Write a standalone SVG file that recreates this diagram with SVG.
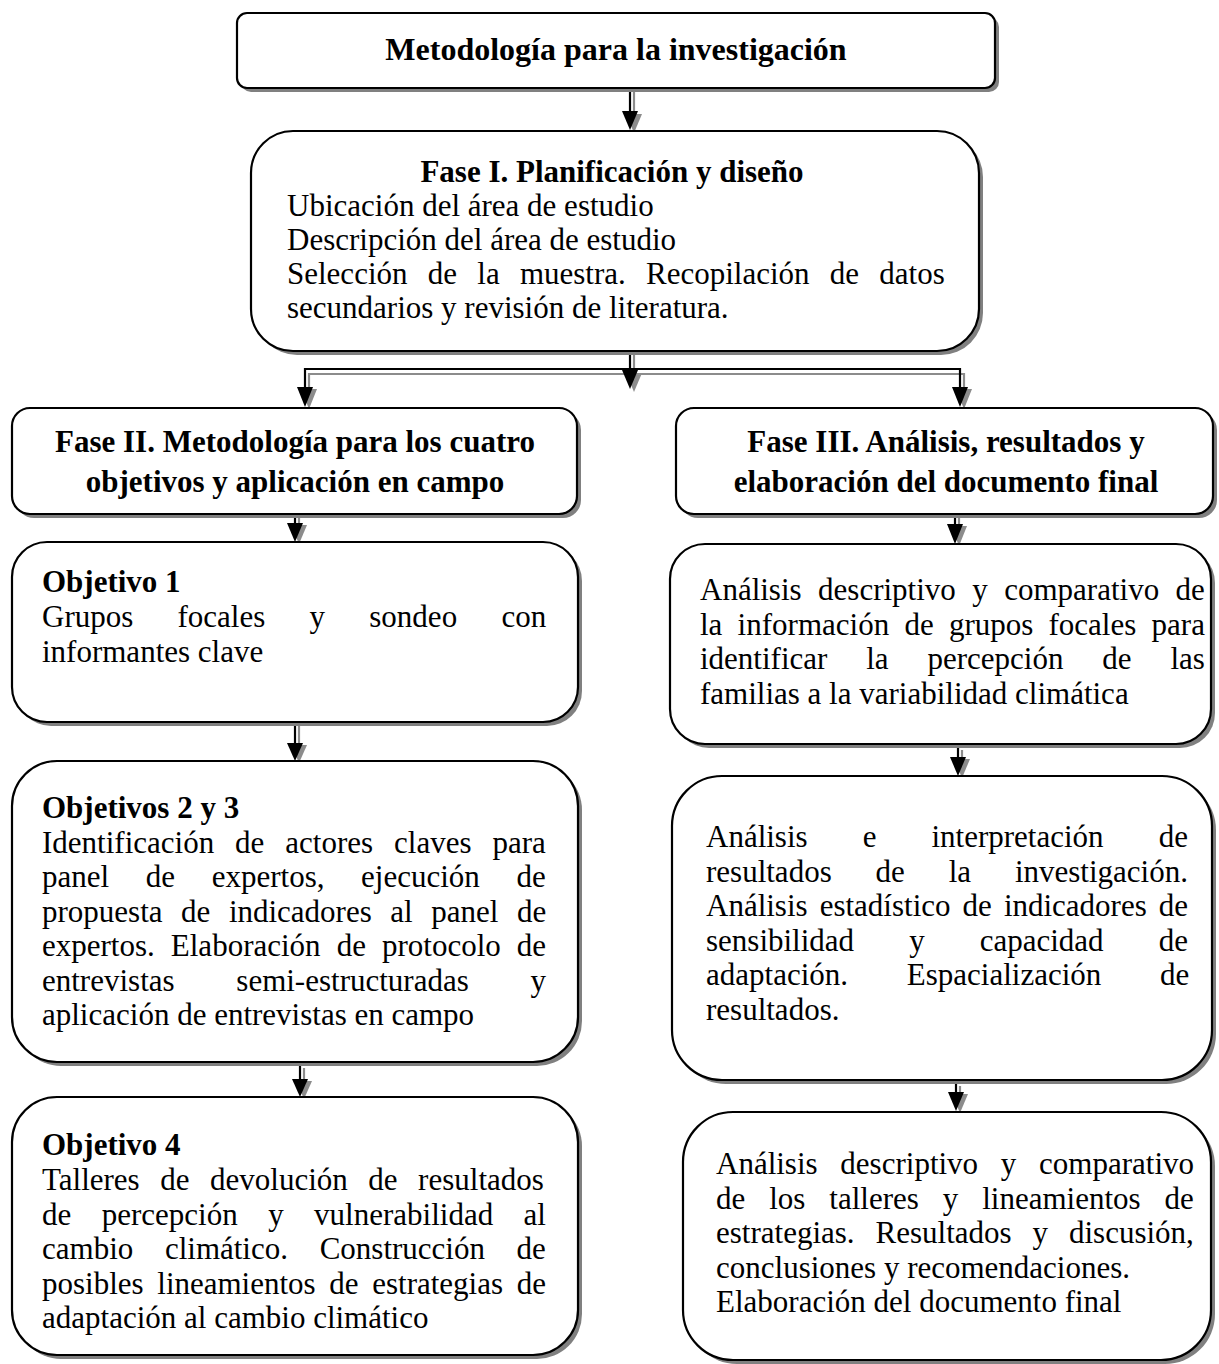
<svg xmlns="http://www.w3.org/2000/svg" width="1219" height="1364" viewBox="0 0 1219 1364">
<defs>
<style>
.box{fill:#fff;stroke:#000;stroke-width:2.2}
.sh{fill:#808080;stroke:none}
.t{font-family:"Liberation Serif","Times New Roman",serif;font-size:31px;fill:#000}
.b{font-weight:bold}
.c{text-anchor:middle}
.ln{stroke:#000;stroke-width:2.2;fill:none}
.lg{stroke:#8c8c8c;stroke-width:2.2;fill:none}
.hd{fill:#000}
.hg{fill:#8c8c8c}
</style>
</defs>
<rect width="1219" height="1364" fill="#fff"/>

<g id="connectors">
  <!-- title -> fase I -->
  <path class="lg" d="M634 91 V116"/><polygon class="hg" points="626,114 642,114 634,133"/>
  <path class="ln" d="M630 89 V113"/><polygon class="hd" points="622,111 638,111 630,130"/>
  <!-- branch from fase I -->
  <path class="lg" d="M634 354 V374"/><polygon class="hg" points="626,373 642,373 634,392"/>
  <path class="lg" d="M309 391 V374 H964 V391"/>
  <polygon class="hg" points="301,389 317,389 309,409"/><polygon class="hg" points="956,389 972,389 964,409"/>
  <path class="ln" d="M630 352 V371"/><polygon class="hd" points="622,370 638,370 630,389"/>
  <path class="ln" d="M305 389 V369 H960 V389"/>
  <polygon class="hd" points="297,387 313,387 305,407"/><polygon class="hd" points="952,387 968,387 960,407"/>
  <!-- fase II -> obj1 -->
  <path class="lg" d="M299 518 V527"/><polygon class="hg" points="291,525 307,525 299,544"/>
  <path class="ln" d="M295 516 V525"/><polygon class="hd" points="287,523 303,523 295,542"/>
  <!-- obj1 -> obj2,3 -->
  <path class="lg" d="M299 726 V747"/><polygon class="hg" points="291,745 307,745 299,763"/>
  <path class="ln" d="M295 724 V745"/><polygon class="hd" points="287,743 303,743 295,761"/>
  <!-- obj2,3 -> obj4 -->
  <path class="lg" d="M304 1068 V1083"/><polygon class="hg" points="296,1081 312,1081 304,1099"/>
  <path class="ln" d="M300 1066 V1081"/><polygon class="hd" points="292,1079 308,1079 300,1097"/>
  <!-- fase III -> A1 -->
  <path class="lg" d="M959 518 V528"/><polygon class="hg" points="951,526 967,526 959,546"/>
  <path class="ln" d="M955 516 V526"/><polygon class="hd" points="947,524 963,524 955,544"/>
  <!-- A1 -> A2 -->
  <path class="lg" d="M962 750 V761"/><polygon class="hg" points="954,759 970,759 962,778"/>
  <path class="ln" d="M958 748 V759"/><polygon class="hd" points="950,757 966,757 958,776"/>
  <!-- A2 -> A3 -->
  <path class="lg" d="M960 1086 V1096"/><polygon class="hg" points="952,1094 968,1094 960,1113"/>
  <path class="ln" d="M956 1084 V1094"/><polygon class="hd" points="948,1092 964,1092 956,1111"/>
</g>

<g id="title">
  <rect class="sh" x="241" y="17" width="758" height="75" rx="10"/>
  <rect class="box" x="237" y="13" width="758" height="75" rx="10"/>
  <text class="t b c" x="616" y="60" style="font-size:32px">Metodología para la investigación</text>
</g>

<g id="fase1">
  <rect class="sh" x="255" y="135" width="728" height="220" rx="42"/>
  <rect class="box" x="251" y="131" width="728" height="220" rx="42"/>
  <text class="t b c" x="612" y="182">Fase I. Planificación y diseño</text>
  <text class="t" x="287" y="216">Ubicación del área de estudio</text>
  <text class="t" x="287" y="250">Descripción del área de estudio</text>
  <text class="t" x="287" y="284" word-spacing="12.5">Selección de la muestra. Recopilación de datos</text>
  <text class="t" x="287" y="318">secundarios y revisión de literatura.</text>
</g>

<g id="fase2">
  <rect class="sh" x="16" y="412" width="565" height="106" rx="18"/>
  <rect class="box" x="12" y="408" width="565" height="106" rx="18"/>
  <text class="t b c" x="295" y="452">Fase II. Metodología para los cuatro</text>
  <text class="t b c" x="295" y="492">objetivos y aplicación en campo</text>
</g>

<g id="fase3">
  <rect class="sh" x="680" y="412" width="537" height="106" rx="18"/>
  <rect class="box" x="676" y="408" width="537" height="106" rx="18"/>
  <text class="t b c" x="946" y="452">Fase III. Análisis, resultados y</text>
  <text class="t b c" x="946" y="492">elaboración del documento final</text>
</g>

<g id="obj1">
  <rect class="sh" x="16" y="546" width="566" height="180" rx="35"/>
  <rect class="box" x="12" y="542" width="566" height="180" rx="35"/>
  <text class="t b" x="42" y="592">Objetivo 1</text>
  <text class="t" x="42" y="627" word-spacing="36.5">Grupos focales y sondeo con</text>
  <text class="t" x="42" y="662">informantes clave</text>
</g>

<g id="obj23">
  <rect class="sh" x="16" y="765" width="566" height="301" rx="45"/>
  <rect class="box" x="12" y="761" width="566" height="301" rx="45"/>
  <text class="t b" x="42" y="818">Objetivos 2 y 3</text>
  <text class="t" x="42" y="853" word-spacing="13.2">Identificación de actores claves para</text>
  <text class="t" x="42" y="887" word-spacing="28.9">panel de expertos, ejecución de</text>
  <text class="t" x="42" y="922" word-spacing="10.8">propuesta de indicadores al panel de</text>
  <text class="t" x="42" y="956" word-spacing="8.3">expertos. Elaboración de protocolo de</text>
  <text class="t" x="42" y="991" word-spacing="54">entrevistas semi-estructuradas y</text>
  <text class="t" x="42" y="1025">aplicación de entrevistas en campo</text>
</g>

<g id="obj4">
  <rect class="sh" x="16" y="1101" width="566" height="258" rx="45"/>
  <rect class="box" x="12" y="1097" width="566" height="258" rx="45"/>
  <text class="t b" x="42" y="1155">Objetivo 4</text>
  <text class="t" x="42" y="1190" word-spacing="12.8">Talleres de devolución de resultados</text>
  <text class="t" x="42" y="1225" word-spacing="22.7">de percepción y vulnerabilidad al</text>
  <text class="t" x="42" y="1259" word-spacing="23.9">cambio climático. Construcción de</text>
  <text class="t" x="42" y="1294" word-spacing="5.9">posibles lineamientos de estrategias de</text>
  <text class="t" x="42" y="1328">adaptación al cambio climático</text>
</g>

<g id="a1">
  <rect class="sh" x="674" y="548" width="541" height="200" rx="35"/>
  <rect class="box" x="670" y="544" width="541" height="200" rx="35"/>
  <text class="t" x="700" y="600" word-spacing="8.7">Análisis descriptivo y comparativo de</text>
  <text class="t" x="700" y="635" word-spacing="7.5">la información de grupos focales para</text>
  <text class="t" x="700" y="669" word-spacing="31.1">identificar la percepción de las</text>
  <text class="t" x="700" y="704">familias a la variabilidad climática</text>
</g>

<g id="a2">
  <rect class="sh" x="676" y="780" width="540" height="304" rx="50"/>
  <rect class="box" x="672" y="776" width="540" height="304" rx="50"/>
  <text class="t" x="706" y="847" word-spacing="47.3">Análisis e interpretación de</text>
  <text class="t" x="706" y="882" word-spacing="36.1">resultados de la investigación.</text>
  <text class="t" x="706" y="916" word-spacing="4.3">Análisis estadístico de indicadores de</text>
  <text class="t" x="706" y="951" word-spacing="47.3">sensibilidad y capacidad de</text>
  <text class="t" x="706" y="985" word-spacing="51">adaptación. Espacialización de</text>
  <text class="t" x="706" y="1020">resultados.</text>
</g>

<g id="a3">
  <rect class="sh" x="687" y="1116" width="528" height="248" rx="50"/>
  <rect class="box" x="683" y="1112" width="528" height="248" rx="50"/>
  <text class="t" x="716" y="1174" word-spacing="15">Análisis descriptivo y comparativo</text>
  <text class="t" x="716" y="1209" word-spacing="16.2">de los talleres y lineamientos de</text>
  <text class="t" x="716" y="1243" word-spacing="13.2">estrategias. Resultados y discusión,</text>
  <text class="t" x="716" y="1278">conclusiones y recomendaciones.</text>
  <text class="t" x="716" y="1312">Elaboración del documento final</text>
</g>
</svg>
